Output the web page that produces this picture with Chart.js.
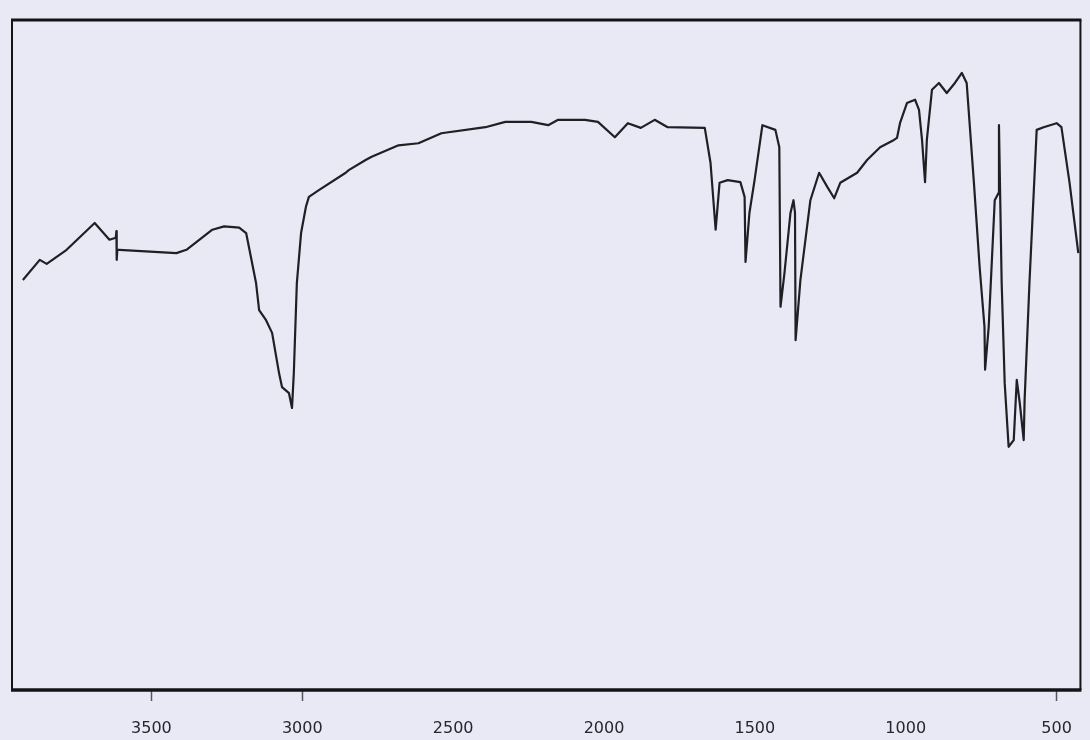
<!DOCTYPE html>
<html>
<head>
<meta charset="utf-8">
<script src="https://cdn.jsdelivr.net/npm/chart.js@4.4.1/dist/chart.umd.min.js"></script>
<style>
  html, body { margin: 0; padding: 0; background: #e8e9f5; }
  canvas { display: block; }
</style>
</head>
<body>
<canvas id="ir" width="1090" height="740"></canvas>
<script>
// IR spectrum trace: wavenumber (cm-1) and transmittance (%)
const wavenumbers = [
  3926, 3870, 3847, 3781, 3688, 3639, 3618, 3616, 3615, 3613, 3606,
  3417, 3384, 3298, 3259, 3209, 3186, 3153, 3143, 3120, 3100, 3077, 3067,
  3044, 3034, 3028, 3018, 3004, 2988, 2978, 2945, 2856, 2846, 2790,
  2770, 2681, 2615, 2539, 2393, 2327, 2241, 2185, 2152, 2063, 2020,
  1964, 1921, 1878, 1832, 1789, 1666, 1647, 1630, 1617, 1590, 1548,
  1534, 1531, 1518, 1501, 1475, 1432, 1419, 1415, 1402, 1382, 1372,
  1367, 1365, 1349, 1316, 1287, 1260, 1237, 1217, 1161, 1128, 1085,
  1039, 1029, 1019, 996, 969, 956, 946, 936, 930, 913, 890, 864, 837,
  814, 798, 774, 755, 739, 737, 725, 705, 692, 691, 682, 672, 659,
  642, 632, 622, 609, 606, 590, 566, 543, 500, 484, 457, 428
];
const transmittance = [
  61.2, 64.2, 63.6, 65.7, 69.7, 67.2, 67.5, 68.5, 64.2, 65.7, 65.7,
  65.2, 65.7, 68.7, 69.2, 69.0, 68.2, 60.7, 56.7, 55.2, 53.3, 47.3, 45.2,
  44.3, 42.1, 47.3, 60.7, 68.2, 72.1, 73.6, 74.6, 77.2, 77.6, 79.1,
  79.6, 81.3, 81.6, 83.1, 84.0, 84.8, 84.8, 84.3, 85.1, 85.1, 84.8,
  82.5, 84.6, 83.9, 85.1, 84.0, 83.9, 78.7, 68.7, 75.7, 76.1, 75.8,
  73.6, 63.9, 71.2, 76.1, 84.3, 83.6, 81.0, 57.2, 62.2, 71.2, 73.1,
  71.2, 52.2, 61.2, 73.1, 77.2, 75.1, 73.4, 75.7, 77.2, 79.1, 81.0,
  82.1, 82.4, 84.6, 87.6, 88.1, 86.6, 82.1, 75.8, 82.1, 89.6, 90.6, 89.1, 90.6,
  92.1, 90.6, 75.7, 63.1, 54.2, 47.8, 54.2, 73.1, 74.2, 84.3, 60.7, 45.8, 36.3,
  37.3, 46.3, 42.8, 37.3, 43.3, 60.7, 83.6, 84.0, 84.6, 84.0, 75.7, 65.2
];
const tickLabels = [3500, 3000, 2500, 2000, 1500, 1000, 500];
const markedTicks = [3500, 3000, 500];

const axisMin = 421;
const axisMax = 3962;

const points = wavenumbers.map((w, i) => ({ x: w, y: transmittance[i] }));

// Frame around the plotting area: heavy top/bottom rules, thinner sides
const framePlugin = {
  id: 'frame',
  beforeDraw(chart) {
    const c = chart.ctx;
    c.save();
    c.fillStyle = '#e8e9f5';
    c.fillRect(0, 0, chart.width, chart.height);
    c.restore();
  },
  afterDraw(chart) {
    const a = chart.chartArea;
    const c = chart.ctx;
    c.save();
    c.strokeStyle = '#141418';
    c.lineCap = 'butt';
    c.lineWidth = 3;
    c.beginPath(); c.moveTo(a.left - 1, a.top); c.lineTo(a.right + 1, a.top); c.stroke();
    c.lineWidth = 3.5;
    c.beginPath(); c.moveTo(a.left - 1, a.bottom); c.lineTo(a.right + 1, a.bottom); c.stroke();
    c.lineWidth = 2;
    c.beginPath(); c.moveTo(a.left, a.top); c.lineTo(a.left, a.bottom); c.stroke();
    c.beginPath(); c.moveTo(a.right, a.top); c.lineTo(a.right, a.bottom); c.stroke();
    c.restore();
  }
};

new Chart(document.getElementById('ir'), {
  type: 'line',
  data: {
    datasets: [{
      data: points,
      borderColor: '#1f1f24',
      borderWidth: 2.2,
      pointRadius: 0,
      tension: 0,
      borderJoinStyle: 'round',
      fill: false
    }]
  },
  options: {
    responsive: false,
    devicePixelRatio: 1,
    animation: false,
    layout: { padding: { left: 12, right: 6, top: 20, bottom: 0 } },
    plugins: { legend: { display: false }, tooltip: { enabled: false } },
    scales: {
      x: {
        type: 'linear',
        reverse: true,
        min: axisMin,
        max: axisMax,
        afterBuildTicks(scale) {
          scale.ticks = tickLabels.map(v => ({ value: v }));
        },
        afterFit(scale) { scale.height = 50; },
        border: { display: false },
        grid: {
          drawOnChartArea: false,
          drawTicks: true,
          tickLength: 11,
          tickWidth: 1.5,
          tickColor: (ctx) => markedTicks.includes(ctx.tick && ctx.tick.value) ? '#55555c' : 'rgba(0,0,0,0)'
        },
        ticks: {
          padding: 18,
          autoSkip: false,
          maxRotation: 0,
          color: '#26262e',
          font: { family: 'DejaVu Sans', size: 16 },
          callback: (v) => String(v)
        }
      },
      y: {
        display: false,
        min: 0,
        max: 100
      }
    }
  },
  plugins: [framePlugin]
});
</script>
</body>
</html>
